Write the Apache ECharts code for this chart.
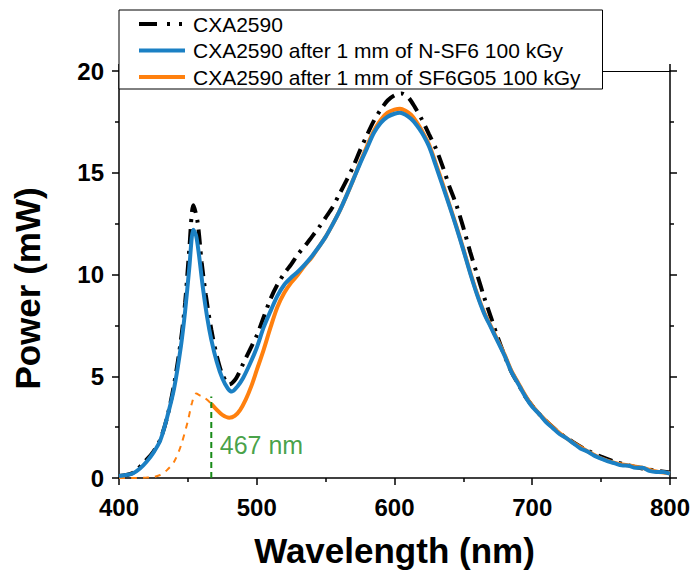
<!DOCTYPE html>
<html><head><meta charset="utf-8">
<script src="https://cdn.jsdelivr.net/npm/echarts@6/dist/echarts.min.js"></script>
<style>html,body{margin:0;padding:0;background:#fff}#c{width:693px;height:573px}</style>
</head><body><div id="c"></div>
<script>
// ---------- data ----------
const nameRef = 'CXA2590';
const nameNSF6 = 'CXA2590 after 1 mm of N-SF6 100 kGy';
const nameSF6G05 = 'CXA2590 after 1 mm of SF6G05 100 kGy';

const refWl = [400,410,420,425,430,435,440,445,448,451,454,457,460,463,467,471,475,480,485,490,495,500,505,510,515,520,525,530,535,540,545,550,555,560,565,570,575,580,585,590,595,600,605,610,615,620,625,630,635,640,645,650,655,660,665,670,675,680,685,690,695,700,705,710,720,730,740,750,760,770,780,790,800];
const refPw = [0.1,0.25,0.9,1.3,1.9,3.0,4.6,6.8,8.6,11.2,13.4,12.6,10.6,9.0,7.3,6.0,5.1,4.6,4.9,5.6,6.3,7.0,7.9,8.8,9.5,10.05,10.5,11.0,11.4,11.85,12.3,12.8,13.3,13.95,14.6,15.3,16.1,16.85,17.55,18.1,18.55,18.8,18.9,18.7,18.2,17.6,16.9,16.2,15.3,14.3,13.4,12.3,11.1,10.0,8.9,7.9,6.9,6.0,5.2,4.6,4.0,3.55,3.15,2.8,2.2,1.75,1.35,1.05,0.8,0.62,0.47,0.36,0.27];

const nsf6Wl = [400,405,410,415,420,425,430,435,440,445,448,451,454,456,458,461,464,467,471,475,479,482,486,490,495,500,505,510,515,520,525,530,535,540,545,550,555,560,565,570,575,580,585,590,595,600,604,608,612,616,620,625,630,635,640,645,650,655,660,665,670,675,680,685,690,695,700,705,710,715,720,725,730,735,740,745,750,755,760,765,770,775,780,785,790,795,800];
const nsf6Pw = [0.1,0.15,0.22,0.45,0.8,1.25,1.85,3.0,4.4,6.5,8.2,10.3,12.2,11.9,11.0,9.3,7.9,6.8,5.7,4.9,4.4,4.25,4.5,4.9,5.6,6.4,7.4,8.2,8.95,9.5,9.85,10.15,10.5,10.9,11.35,11.85,12.45,13.1,13.85,14.65,15.45,16.2,16.95,17.45,17.75,17.9,17.95,17.85,17.65,17.35,16.95,16.3,15.35,14.35,13.35,12.3,11.2,10.05,9.0,8.1,7.4,6.7,6.0,5.2,4.6,4.0,3.5,3.15,2.75,2.45,2.15,1.95,1.7,1.45,1.3,1.1,0.95,0.82,0.72,0.62,0.6,0.5,0.5,0.35,0.3,0.3,0.22];

const sf6g05Wl = [467,471,475,480,484,488,492,496,500,505,510,515,520,525,530,535,540,545,550,555,560,565,570,575,580,585,590,595,600,604,608,612,616,620,625,630,635,640,645,650,655,660,665,670,675,680,685,690,695,700,710,720,730,740,750,760,770,780,790,800];
const sf6g05Pw = [3.65,3.35,3.1,2.96,3.05,3.35,3.85,4.5,5.3,6.3,7.4,8.4,9.1,9.6,10.0,10.45,10.85,11.35,11.85,12.45,13.1,13.85,14.65,15.5,16.3,17.05,17.6,17.95,18.1,18.15,18.05,17.85,17.5,17.05,16.4,15.45,14.45,13.4,12.35,11.25,10.1,9.05,8.15,7.45,6.75,6.05,5.25,4.65,4.05,3.55,2.8,2.2,1.72,1.32,0.97,0.74,0.61,0.5,0.32,0.24];

const sf6g05HiddenWl = [400,410,420,425,430,435,440,445,450,453,456,459,462,467];
const sf6g05HiddenPw = [0.0,0.0,0.02,0.05,0.15,0.4,0.8,1.6,2.8,3.7,4.15,4.05,3.95,3.65];

const cutoffWl = [467, 467];
const cutoffPw = [0, 4.0];
const cutoffLabel = '467 nm';
const cutoffLabelAt = [467, 1.6];

const xTicks = {min: 400, max: 800, step: 100};
const yTicks = {min: 0, max: 20, step: 5};

// ---------- chart ----------
const pairs = (xs, ys) => xs.map((x, i) => [x, ys[i]]);
const FONT = 'Liberation Sans, Arial, sans-serif';
const BLUE = '#1b80c4', ORANGE = '#ff800e', GREEN = '#178a17';

const axisCommon = {
  axisLine: {show: true, onZero: false, lineStyle: {color: '#000', width: 1.5}},
  axisTick: {show: true, inside: false, length: 7, lineStyle: {color: '#000', width: 1.5}},
  minorTick: {show: true, splitNumber: 2, length: 4, lineStyle: {color: '#000', width: 1.5}},
  splitLine: {show: false},
  minorSplitLine: {show: false}
};
const labelStyle = {color: '#000', fontSize: 24, fontWeight: 'bold', fontFamily: FONT};

const chart = echarts.init(document.getElementById('c'), null, {renderer: 'svg'});
chart.setOption({
  animation: false,
  backgroundColor: '#fff',
  grid: {left: 119, right: 22, top: 71, bottom: 95, show: false},
  legend: {
    orient: 'vertical', left: 119, top: 10,
    itemWidth: 46, itemHeight: 14, itemGap: 4.5,
    padding: [3, 22, 1, 18],
    backgroundColor: '#fff', borderColor: '#000', borderWidth: 1,
    selectedMode: false,
    itemStyle: {opacity: 0, color: 'rgba(0,0,0,0)', borderWidth: 0},
    lineStyle: {width: 4},
    textStyle: {fontFamily: FONT, fontSize: 21, color: '#000', lineHeight: 22, padding: [0, 0, 0, 3]},
    data: [
      {name: nameRef, lineStyle: {width: 4, type: [18, 10, 3, 9, 3, 9]}},
      {name: nameNSF6},
      {name: nameSF6G05}
    ]
  },
  xAxis: [
    Object.assign({type: 'value', position: 'bottom', min: xTicks.min, max: xTicks.max, interval: xTicks.step,
      axisLabel: Object.assign({margin: 17}, labelStyle),
      name: 'Wavelength (nm)', nameLocation: 'middle', nameGap: 55,
      nameTextStyle: {color: '#000', fontSize: 35, fontWeight: 'bold', fontFamily: FONT}}, axisCommon),
    Object.assign({type: 'value', position: 'top', min: xTicks.min, max: xTicks.max, interval: xTicks.step,
      axisLabel: {show: false}}, axisCommon, {axisLine: {show: true, onZero: false, lineStyle: {color: '#000', width: 1}}})
  ],
  yAxis: [
    Object.assign({type: 'value', position: 'left', min: yTicks.min, max: yTicks.max, interval: yTicks.step,
      axisLabel: Object.assign({margin: 15}, labelStyle),
      name: 'Power (mW)', nameLocation: 'middle', nameGap: 74,
      nameTextStyle: {color: '#000', fontSize: 35, fontWeight: 'bold', fontFamily: FONT, padding: [0, 28, 0, 0]}}, axisCommon),
    Object.assign({type: 'value', position: 'right', min: yTicks.min, max: yTicks.max, interval: yTicks.step,
      axisLabel: {show: false}}, axisCommon)
  ],
  series: [
    {name: nameRef, type: 'line', data: pairs(refWl, refPw), symbol: 'none', smooth: 0.3,
      color: '#000', lineStyle: {color: '#000', width: 4, type: [15, 7, 3, 7], cap: 'butt'}, z: 2},
    {name: nameSF6G05, type: 'line', data: pairs(sf6g05Wl, sf6g05Pw), symbol: 'none', smooth: 0.3,
      color: ORANGE, lineStyle: {color: ORANGE, width: 4}, z: 3},
    {name: 'sf6g05-hidden', type: 'line', data: pairs(sf6g05HiddenWl, sf6g05HiddenPw), symbol: 'none', smooth: 0.3,
      color: ORANGE, lineStyle: {color: ORANGE, width: 2, type: [6, 6]}, z: 3},
    {name: nameNSF6, type: 'line', data: pairs(nsf6Wl, nsf6Pw), symbol: 'none', smooth: 0.3,
      color: BLUE, lineStyle: {color: BLUE, width: 4}, z: 4},
    {name: 'cutoff', type: 'line', data: pairs(cutoffWl, cutoffPw), symbol: 'none',
      color: GREEN, lineStyle: {color: GREEN, width: 2, type: [6, 4]}, z: 5},
    {name: 'cutoff-label', type: 'scatter', data: [cutoffLabelAt], symbolSize: 1,
      itemStyle: {color: 'rgba(0,0,0,0)'}, z: 5,
      label: {show: true, position: 'right', distance: 8, formatter: cutoffLabel,
        color: GREEN, fontSize: 25, fontFamily: FONT}}
  ]
});
</script>
</body></html>
